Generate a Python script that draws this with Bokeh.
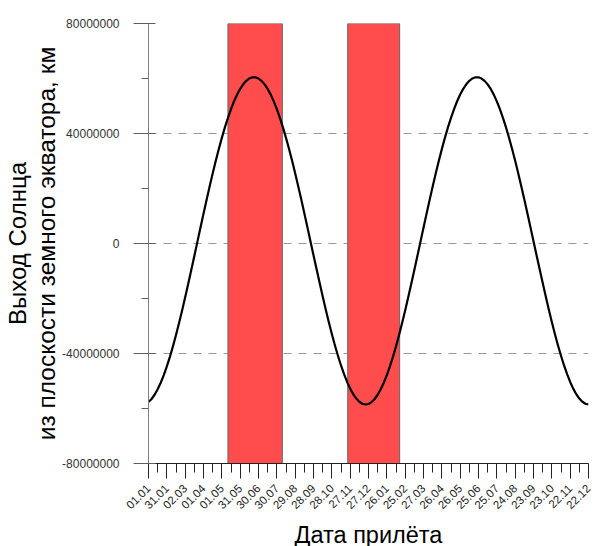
from math import pi
from bokeh.plotting import figure
from bokeh.models import FixedTicker, Title
from bokeh.embed import file_html
from bokeh.resources import INLINE

FONT = "Liberation Sans"

# x ticks: arrival dates, every 30 days (minor every 15 days), two years
tick_days = list(range(0, 721, 30))
tick_labels = ["01.01", "31.01", "02.03", "01.04", "01.05", "31.05", "30.06",
               "30.07", "29.08", "28.09", "28.10", "27.11", "27.12", "26.01",
               "25.02", "27.03", "26.04", "26.05", "25.06", "25.07", "24.08",
               "23.09", "23.10", "22.11", "22.12"]
minor_days = list(range(15, 721, 30))

y_ticks = [-80000000, -40000000, 0, 40000000, 80000000]
y_minor = [-60000000, -20000000, 20000000, 60000000]

# red arrival windows (days from 01.01)
window_start = [130, 326]
window_end = [219, 411]
window_bottom = [-80000000, -80000000]
window_top = [80000000, 80000000]

# Sun offset from Earth's equatorial plane, million km, read every 5 days (one year)
offset_year_mkm = [
    -57.67, -56.55, -55.00, -53.02, -50.64, -47.85, -44.69, -41.21, -37.40, -33.29,
    -28.93, -24.35, -19.58, -14.67, -9.64, -4.54, 0.59, 5.72, 10.81, 15.82,
    20.70, 25.44, 30.00, 34.32, 38.42, 42.23, 45.71, 48.89, 51.72, 54.17,
    56.23, 57.90, 59.16, 60.01, 60.43, 60.42, 59.99, 59.14, 57.87, 56.20,
    54.13, 51.67, 48.86, 45.71, 42.21, 38.42, 34.36, 30.06, 25.54, 20.84,
    15.98, 11.00, 5.95, 0.85, -4.25, -9.31, -14.31, -19.21, -23.96, -28.54,
    -32.89, -37.00, -40.82, -44.35, -47.53, -50.35, -52.78, -54.79, -56.40, -57.56,
    -58.27, -58.54, -58.35,
]
curve_days = list(range(0, 721, 5))
curve_mkm = offset_year_mkm + offset_year_mkm[:72]   # second year repeats
curve_km = [v * 1e6 for v in curve_mkm]

p = figure(frame_width=440, frame_height=440,
           x_range=(0, 720), y_range=(-80000000, 80000000),
           output_backend="svg", toolbar_location=None,
           min_border_left=148, min_border_right=10,
           min_border_top=23, min_border_bottom=83)
p.outline_line_color = None
p.background_fill_color = "white"
p.border_fill_color = "white"

p.quad(left=window_start, right=window_end, bottom=window_bottom, top=window_top,
       fill_color="#ff4d4d", line_color="#666666", line_width=1)
p.line(curve_days, curve_km, line_color="black", line_width=2.2, line_join="round")

# grid
p.xgrid.visible = False
p.ygrid.ticker = FixedTicker(ticks=y_ticks)
p.ygrid.grid_line_color = "#9a9a9a"
p.ygrid.grid_line_dash = "8 7"
p.ygrid.grid_line_width = 1

# y axis
ya = p.yaxis[0]
ya.ticker = FixedTicker(ticks=y_ticks, minor_ticks=y_minor)
ya.major_label_overrides = {v: str(v) for v in y_ticks}
ya.axis_line_color = "#808080"
ya.major_tick_line_color = "#606060"
ya.minor_tick_line_color = "#606060"
ya.major_tick_out = 15
ya.major_tick_in = 7
ya.minor_tick_out = 7
ya.minor_tick_in = 0
ya.major_label_standoff = 14
ya.major_label_text_font = FONT
ya.major_label_text_font_size = "12px"
ya.major_label_text_color = "#333333"

# x axis
xa = p.xaxis[0]
xa.ticker = FixedTicker(ticks=tick_days, minor_ticks=minor_days)
xa.major_label_overrides = {d: s for d, s in zip(tick_days, tick_labels)}
xa.major_label_orientation = pi / 4
xa.axis_line_color = "#222222"
xa.major_tick_line_color = "#222222"
xa.minor_tick_line_color = "#222222"
xa.major_tick_out = 15
xa.major_tick_in = 0
xa.minor_tick_out = 9
xa.minor_tick_in = 0
xa.major_label_standoff = 8
xa.major_label_text_font = FONT
xa.major_label_text_font_size = "11.5px"
xa.major_label_text_color = "#222222"
xa.axis_label = "Дата прилёта"
xa.axis_label_text_font = FONT
xa.axis_label_text_font_size = "23.5px"
xa.axis_label_text_font_style = "normal"
xa.axis_label_text_color = "black"
xa.axis_label_standoff = 6

t2 = Title(text="из плоскости земного экватора, км", align="center",
           text_font=FONT, text_font_size="24.5px", text_font_style="normal",
           text_color="black", standoff=0)
t1 = Title(text="Выход Солнца", align="center",
           text_font=FONT, text_font_size="24px", text_font_style="normal",
           text_color="black", standoff=0)
p.add_layout(t2, "left")
p.add_layout(t1, "left")

open("out.html", "w").write(file_html(p, INLINE))
